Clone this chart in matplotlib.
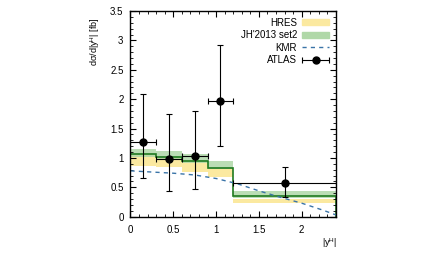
import numpy as np
import matplotlib.pyplot as plt
from matplotlib.patches import Patch
from matplotlib.lines import Line2D
from matplotlib.legend_handler import HandlerErrorbar
from matplotlib.ticker import MultipleLocator

plt.rcParams['font.family'] = ['Liberation Sans', 'DejaVu Sans']
plt.rcParams['mathtext.fontset'] = 'custom'
plt.rcParams['mathtext.rm'] = 'Liberation Sans'
plt.rcParams['mathtext.it'] = 'Liberation Sans'

# bins in |y^H|
edges = [0.0, 0.3, 0.6, 0.9, 1.2, 2.4]

# HRES band
hres_lo = [0.87, 0.84, 0.76, 0.67, 0.24]
hres_hi = [1.05, 1.00, 0.93, 0.82, 0.30]

# JH'2013 set2 band and central value
jh_lo = [1.02, 0.99, 0.91, 0.81, 0.32]
jh_hi = [1.16, 1.12, 1.07, 0.95, 0.43]
jh_c = [1.06, 1.02, 0.94, 0.83, 0.35]

# KMR curve
kmr_x = [0.0, 0.25, 0.5, 0.75, 1.0, 1.25, 1.5, 1.75, 2.0, 2.25, 2.4]
kmr_y = [0.78, 0.76, 0.74, 0.71, 0.65, 0.56, 0.44, 0.33, 0.23, 0.11, 0.03]

# ATLAS data
atlas_x = [0.15, 0.45, 0.75, 1.05, 1.8]
atlas_y = [1.265, 0.975, 1.027, 1.97, 0.573]
atlas_up = [2.08, 1.74, 1.80, 2.92, 0.85]
atlas_dn = [0.65, 0.44, 0.466, 1.21, 0.34]

xticks = [0, 0.5, 1, 1.5, 2]
xticklabels = ['0', '0.5', '1', '1.5', '2']
yticks = [0, 0.5, 1, 1.5, 2, 2.5, 3, 3.5]
yticklabels = ['0', '0.5', '1', '1.5', '2', '2.5', '3', '3.5']

yellow = '#fbe9a0'
green = '#b0d8a8'
dgreen = '#1f7a1f'
kmr_col = '#3a74a8'

fig = plt.figure(figsize=(4.36, 2.62), dpi=100)
ax = fig.add_axes([0.2993, 0.1729, 0.4713, 0.7851])

ax.stairs(hres_hi, edges, baseline=hres_lo, fill=True, color=yellow, lw=0)
ax.stairs(jh_hi, edges, baseline=jh_lo, fill=True, color=green, alpha=0.85, lw=0)
ax.stairs(jh_c, edges, color=dgreen, lw=1.2)
ax.plot(kmr_x, kmr_y, color=kmr_col, lw=1.0, ls=(0, (3, 3)))

px = np.array(atlas_x)
py = np.array(atlas_y)
xerr = [px - np.array(edges[:-1]), np.array(edges[1:]) - px]
yerr = [py - np.array(atlas_dn), np.array(atlas_up) - py]
ax.errorbar(px, py, xerr=xerr, yerr=yerr, fmt='o', color='black',
            ms=5, lw=0.8, capsize=2, capthick=0.8)
# legend handle: horizontal bar only
eb_leg = ax.errorbar([np.nan], [np.nan], xerr=[0.1], fmt='o', color='black',
                     ms=5, lw=0.8, capsize=2, capthick=0.8)

ax.set_xlim(0, 2.4)
ax.set_ylim(0, 3.5)
ax.set_xticks(xticks)
ax.set_xticklabels(xticklabels)
ax.set_yticks(yticks)
ax.set_yticklabels(yticklabels)
ax.xaxis.set_minor_locator(MultipleLocator(0.1))
ax.yaxis.set_minor_locator(MultipleLocator(0.1))
ax.tick_params(which='both', direction='in', top=True, right=True, labelsize=7)
ax.tick_params(axis='y', pad=5)
ax.tick_params(axis='x', pad=6)
ax.tick_params(which='major', length=4, width=0.8)
ax.tick_params(which='minor', length=2, width=0.6)
for s in ax.spines.values():
    s.set_linewidth(1.0)

ax.text(-0.17, 0.85, r'd$\sigma$/d|y$^H$| [fb]', transform=ax.transAxes,
        rotation=90, ha='center', va='center', fontsize=6.5)
ax.text(0.97, -0.13, r'|y$^H$|', transform=ax.transAxes,
        ha='center', va='center', fontsize=6.5)

handles = [Patch(color=yellow), Patch(color=green),
           Line2D([], [], color=kmr_col, lw=1.0, ls=(0, (3, 3))), eb_leg]
labels = ['HRES', "JH'2013 set2", 'KMR', 'ATLAS']
ax.legend(handles, labels, loc='upper right', frameon=False, markerfirst=False,
          fontsize=7, handlelength=2.8, handleheight=0.6, labelspacing=0.25,
          borderaxespad=0.3, handletextpad=0.5,
          handler_map={eb_leg: HandlerErrorbar(xerr_size=1.4)})

fig.savefig('out.png', dpi=100)
